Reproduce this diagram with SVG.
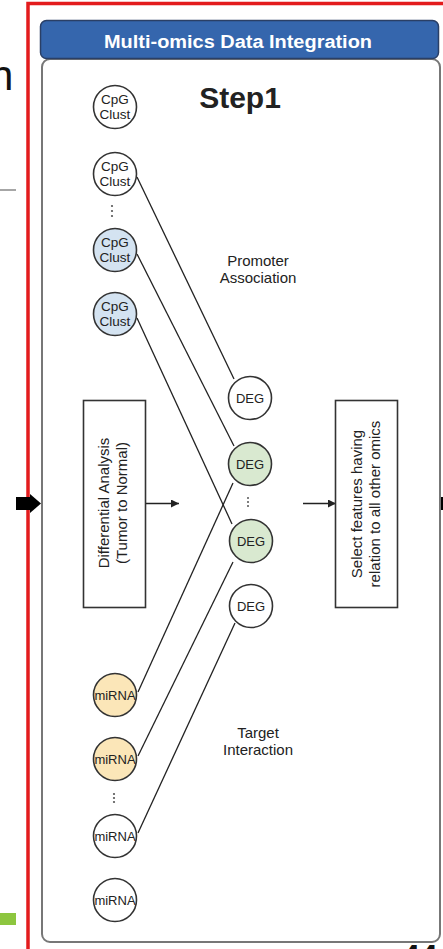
<svg xmlns="http://www.w3.org/2000/svg" width="443" height="949" viewBox="0 0 443 949">
<defs>
<style>
.t{font-family:"Liberation Sans",Arial,sans-serif;fill:#222}
.n{stroke:#333;stroke-width:1.6}
.w{fill:#fff}
.b{fill:#d4e3f1}
.g{fill:#d9e9d0}
.o{fill:#fbe6b8}
.nl{font-size:13px;text-anchor:middle}
.cp{font-size:13.5px;text-anchor:middle}
.lbl{font-size:15px;text-anchor:middle}
.c{stroke:#222;stroke-width:1.3;fill:none}
.dot{fill:#555}
</style>
<marker id="ah" markerWidth="10" markerHeight="10" refX="8" refY="4" orient="auto" markerUnits="userSpaceOnUse">
<path d="M0,0 L8,4 L0,8 z" fill="#222"/>
</marker>
</defs>
<rect width="443" height="949" fill="#fff"/>
<!-- slide fragments -->
<text x="-10" y="90" style="font-family:'Liberation Sans',Arial,sans-serif;font-size:42px;fill:#111">n</text>
<line x1="0" y1="190" x2="16" y2="190" stroke="#888" stroke-width="1.5"/>
<rect x="0" y="913" width="16" height="12" fill="#8dc63f"/>
<text x="402" y="967" style="font-family:'Liberation Sans',Arial,sans-serif;font-size:32px;font-weight:bold;fill:#111">44</text>
<rect x="28" y="3.5" width="500" height="1000" fill="none" stroke="#e31b1d" stroke-width="3.5"/>
<!-- outer arrows -->
<g id="arrow-in">
<rect x="16" y="497" width="14" height="13" fill="#000"/>
<path d="M30,494 L41,503.5 L30,513 z" fill="#000"/>
</g>
<rect x="440" y="497" width="3" height="13" fill="#000"/>
<!-- frame -->
<g id="frame">
<rect x="42" y="59" width="398" height="883" rx="8" fill="#fff" stroke="#777" stroke-width="2"/>
<rect x="40.5" y="20.5" width="398" height="38" rx="6" fill="#3566ad" stroke="#2a3f66" stroke-width="1.5"/>
<text x="104" y="48" textLength="268" lengthAdjust="spacingAndGlyphs" style="font-family:'Liberation Sans',Arial,sans-serif;font-size:18px;font-weight:bold;fill:#fff">Multi-omics Data Integration</text>
<text x="240" y="108" text-anchor="middle" style="font-family:'Liberation Sans',Arial,sans-serif;font-size:30px;font-weight:bold;fill:#222">Step1</text>
</g>
<!-- connectors -->
<g id="connectors">
<line class="c" x1="137" y1="177" x2="234" y2="379"/>
<line class="c" x1="137" y1="254" x2="234" y2="446"/>
<line class="c" x1="137" y1="318" x2="232" y2="524"/>
<line class="c" x1="138" y1="692" x2="233" y2="483"/>
<line class="c" x1="138" y1="756" x2="233" y2="562"/>
<line class="c" x1="138" y1="833" x2="235" y2="623"/>
<line class="c" x1="146" y1="503.5" x2="179" y2="503.5" marker-end="url(#ah)"/>
<line class="c" x1="303" y1="503.5" x2="336" y2="503.5" marker-end="url(#ah)"/>
</g>
<!-- CpG nodes -->
<g id="cpg1"><circle class="n w" cx="115" cy="107" r="21.5"/><text class="t cp" x="115" y="104">CpG</text><text class="t cp" x="115" y="119">Clust</text></g>
<g id="cpg2"><circle class="n w" cx="115" cy="174" r="21.5"/><text class="t cp" x="115" y="171">CpG</text><text class="t cp" x="115" y="186">Clust</text></g>
<g id="cpg-dots"><circle class="dot" cx="112" cy="206" r="1.1"/><circle class="dot" cx="112" cy="211" r="1.1"/><circle class="dot" cx="112" cy="216" r="1.1"/></g>
<g id="cpg3"><circle class="n b" cx="115" cy="250" r="21.5"/><text class="t cp" x="115" y="247">CpG</text><text class="t cp" x="115" y="262">Clust</text></g>
<g id="cpg4"><circle class="n b" cx="115" cy="314" r="21.5"/><text class="t cp" x="115" y="311">CpG</text><text class="t cp" x="115" y="326">Clust</text></g>
<!-- labels -->
<g id="promoter"><text class="t lbl" x="258" y="266">Promoter</text><text class="t lbl" x="258" y="283">Association</text></g>
<g id="target"><text class="t lbl" x="258" y="738">Target</text><text class="t lbl" x="258" y="755">Interaction</text></g>
<!-- DEG nodes -->
<g id="deg1"><circle class="n w" cx="250" cy="398" r="21.5"/><text class="t nl" x="250" y="403">DEG</text></g>
<g id="deg2"><circle class="n g" cx="250" cy="464" r="21.5"/><text class="t nl" x="250" y="469">DEG</text></g>
<g id="deg-dots"><circle class="dot" cx="248" cy="498" r="1"/><circle class="dot" cx="248" cy="502" r="1"/><circle class="dot" cx="248" cy="506" r="1"/></g>
<g id="deg3"><circle class="n g" cx="251" cy="541" r="21.5"/><text class="t nl" x="251" y="546">DEG</text></g>
<g id="deg4"><circle class="n w" cx="251" cy="606" r="21.5"/><text class="t nl" x="251" y="611">DEG</text></g>
<!-- boxes -->
<g id="diff-box">
<rect x="83.5" y="400.5" width="62" height="207" fill="#fff" stroke="#333" stroke-width="1.6"/>
<text class="t lbl" transform="translate(109,503) rotate(-90)">Differential Analysis</text>
<text class="t lbl" transform="translate(127,503) rotate(-90)">(Tumor to Normal)</text>
</g>
<g id="select-box">
<rect x="335.5" y="400.5" width="62" height="207" fill="#fff" stroke="#333" stroke-width="1.6"/>
<text class="t lbl" transform="translate(362,504) rotate(-90)">Select features having</text>
<text class="t lbl" transform="translate(380,504) rotate(-90)">relation to all other omics</text>
</g>
<!-- miRNA nodes -->
<g id="mirna1"><circle class="n o" cx="115" cy="695" r="21.5"/><text class="t nl" x="115" y="700">miRNA</text></g>
<g id="mirna2"><circle class="n o" cx="115" cy="759" r="21.5"/><text class="t nl" x="115" y="764">miRNA</text></g>
<g id="mirna-dots"><circle class="dot" cx="114" cy="794" r="1.1"/><circle class="dot" cx="114" cy="798" r="1.1"/><circle class="dot" cx="114" cy="802" r="1.1"/></g>
<g id="mirna3"><circle class="n w" cx="115" cy="836" r="21.5"/><text class="t nl" x="115" y="841">miRNA</text></g>
<g id="mirna4"><circle class="n w" cx="115" cy="900" r="21.5"/><text class="t nl" x="115" y="905">miRNA</text></g>
</svg>
